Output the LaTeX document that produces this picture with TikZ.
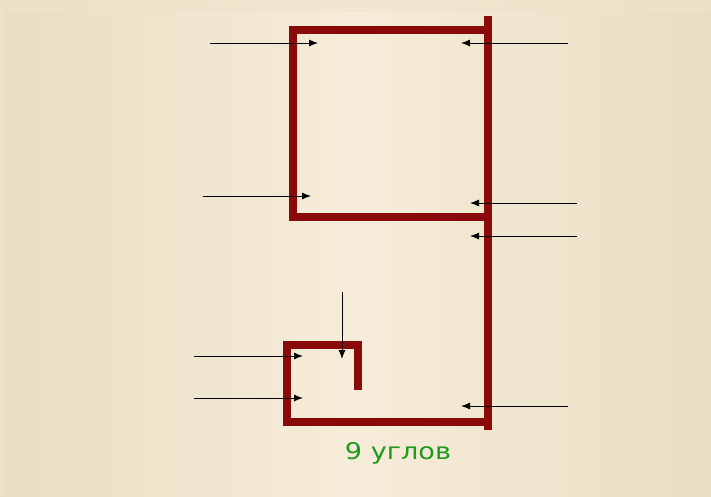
\documentclass[tikz,border=0pt]{standalone}
\usepackage{fontspec}
\setmainfont{DejaVu Sans}
\usetikzlibrary{arrows.meta}
\definecolor{wall}{HTML}{8A0A0A}
\definecolor{bgedge}{HTML}{E9DEC2}
\definecolor{bgmid}{HTML}{F6ECD9}
\definecolor{txtgreen}{HTML}{1E9A1E}
\tikzset{
  wallline/.style={draw=wall, line width=8.5pt, line cap=rect, line join=miter},
  pointer/.style={draw=black, line width=1pt, -{Latex[length=9pt,width=7pt]}},
  caption/.style={text=txtgreen, font=\fontsize{23}{26}\selectfont, inner sep=0pt, xscale=1.18}
}
\begin{document}
\begin{tikzpicture}[x=1pt,y=-1pt]
\useasboundingbox (0,0) rectangle (711,496);
\shade[left color=bgedge, right color=bgedge, middle color=bgmid] (0,0) rectangle (711,496);
\fill[bgedge!60!bgmid, opacity=0.5] (0,0) rectangle (711,12);
\fill[bgedge!70!bgmid] (0,0) rectangle (5,496);
% walls (coordinates)
\coordinate (tl) at (293,30);
\coordinate (tr) at (488,30);
\coordinate (rt) at (488,20);
\coordinate (br) at (488,426);
\coordinate (ml) at (293,217);
\coordinate (mr) at (488,217);
\coordinate (bl) at (287,422);
\coordinate (bbr) at (488,422);
\coordinate (sl) at (287,345);
\coordinate (sr) at (358,345);
\coordinate (se) at (358,386);
\draw[wallline] (tr) -- (tl) -- (ml) -- (mr);
\draw[wallline] (rt) -- (br);
\draw[wallline] (bbr) -- (bl) -- (sl) -- (sr) -- (se);
% arrows
\coordinate (a1s) at (210,43); \coordinate (a1e) at (318,43);
\coordinate (a2s) at (568,43); \coordinate (a2e) at (461,43);
\coordinate (a3s) at (203,196); \coordinate (a3e) at (311,196);
\coordinate (a4s) at (577,203); \coordinate (a4e) at (470,203);
\coordinate (a5s) at (577,236); \coordinate (a5e) at (470,236);
\coordinate (a6s) at (568,406); \coordinate (a6e) at (461,406);
\coordinate (a7s) at (194,356); \coordinate (a7e) at (303,356);
\coordinate (a8s) at (194,398); \coordinate (a8e) at (303,398);
\coordinate (a9s) at (342,292); \coordinate (a9e) at (342,359);
\foreach \i in {1,...,9} {\draw[pointer] (a\i s) -- (a\i e);}
\node[caption] (label) at (398,453) {9 углов};
\end{tikzpicture}
\end{document}
